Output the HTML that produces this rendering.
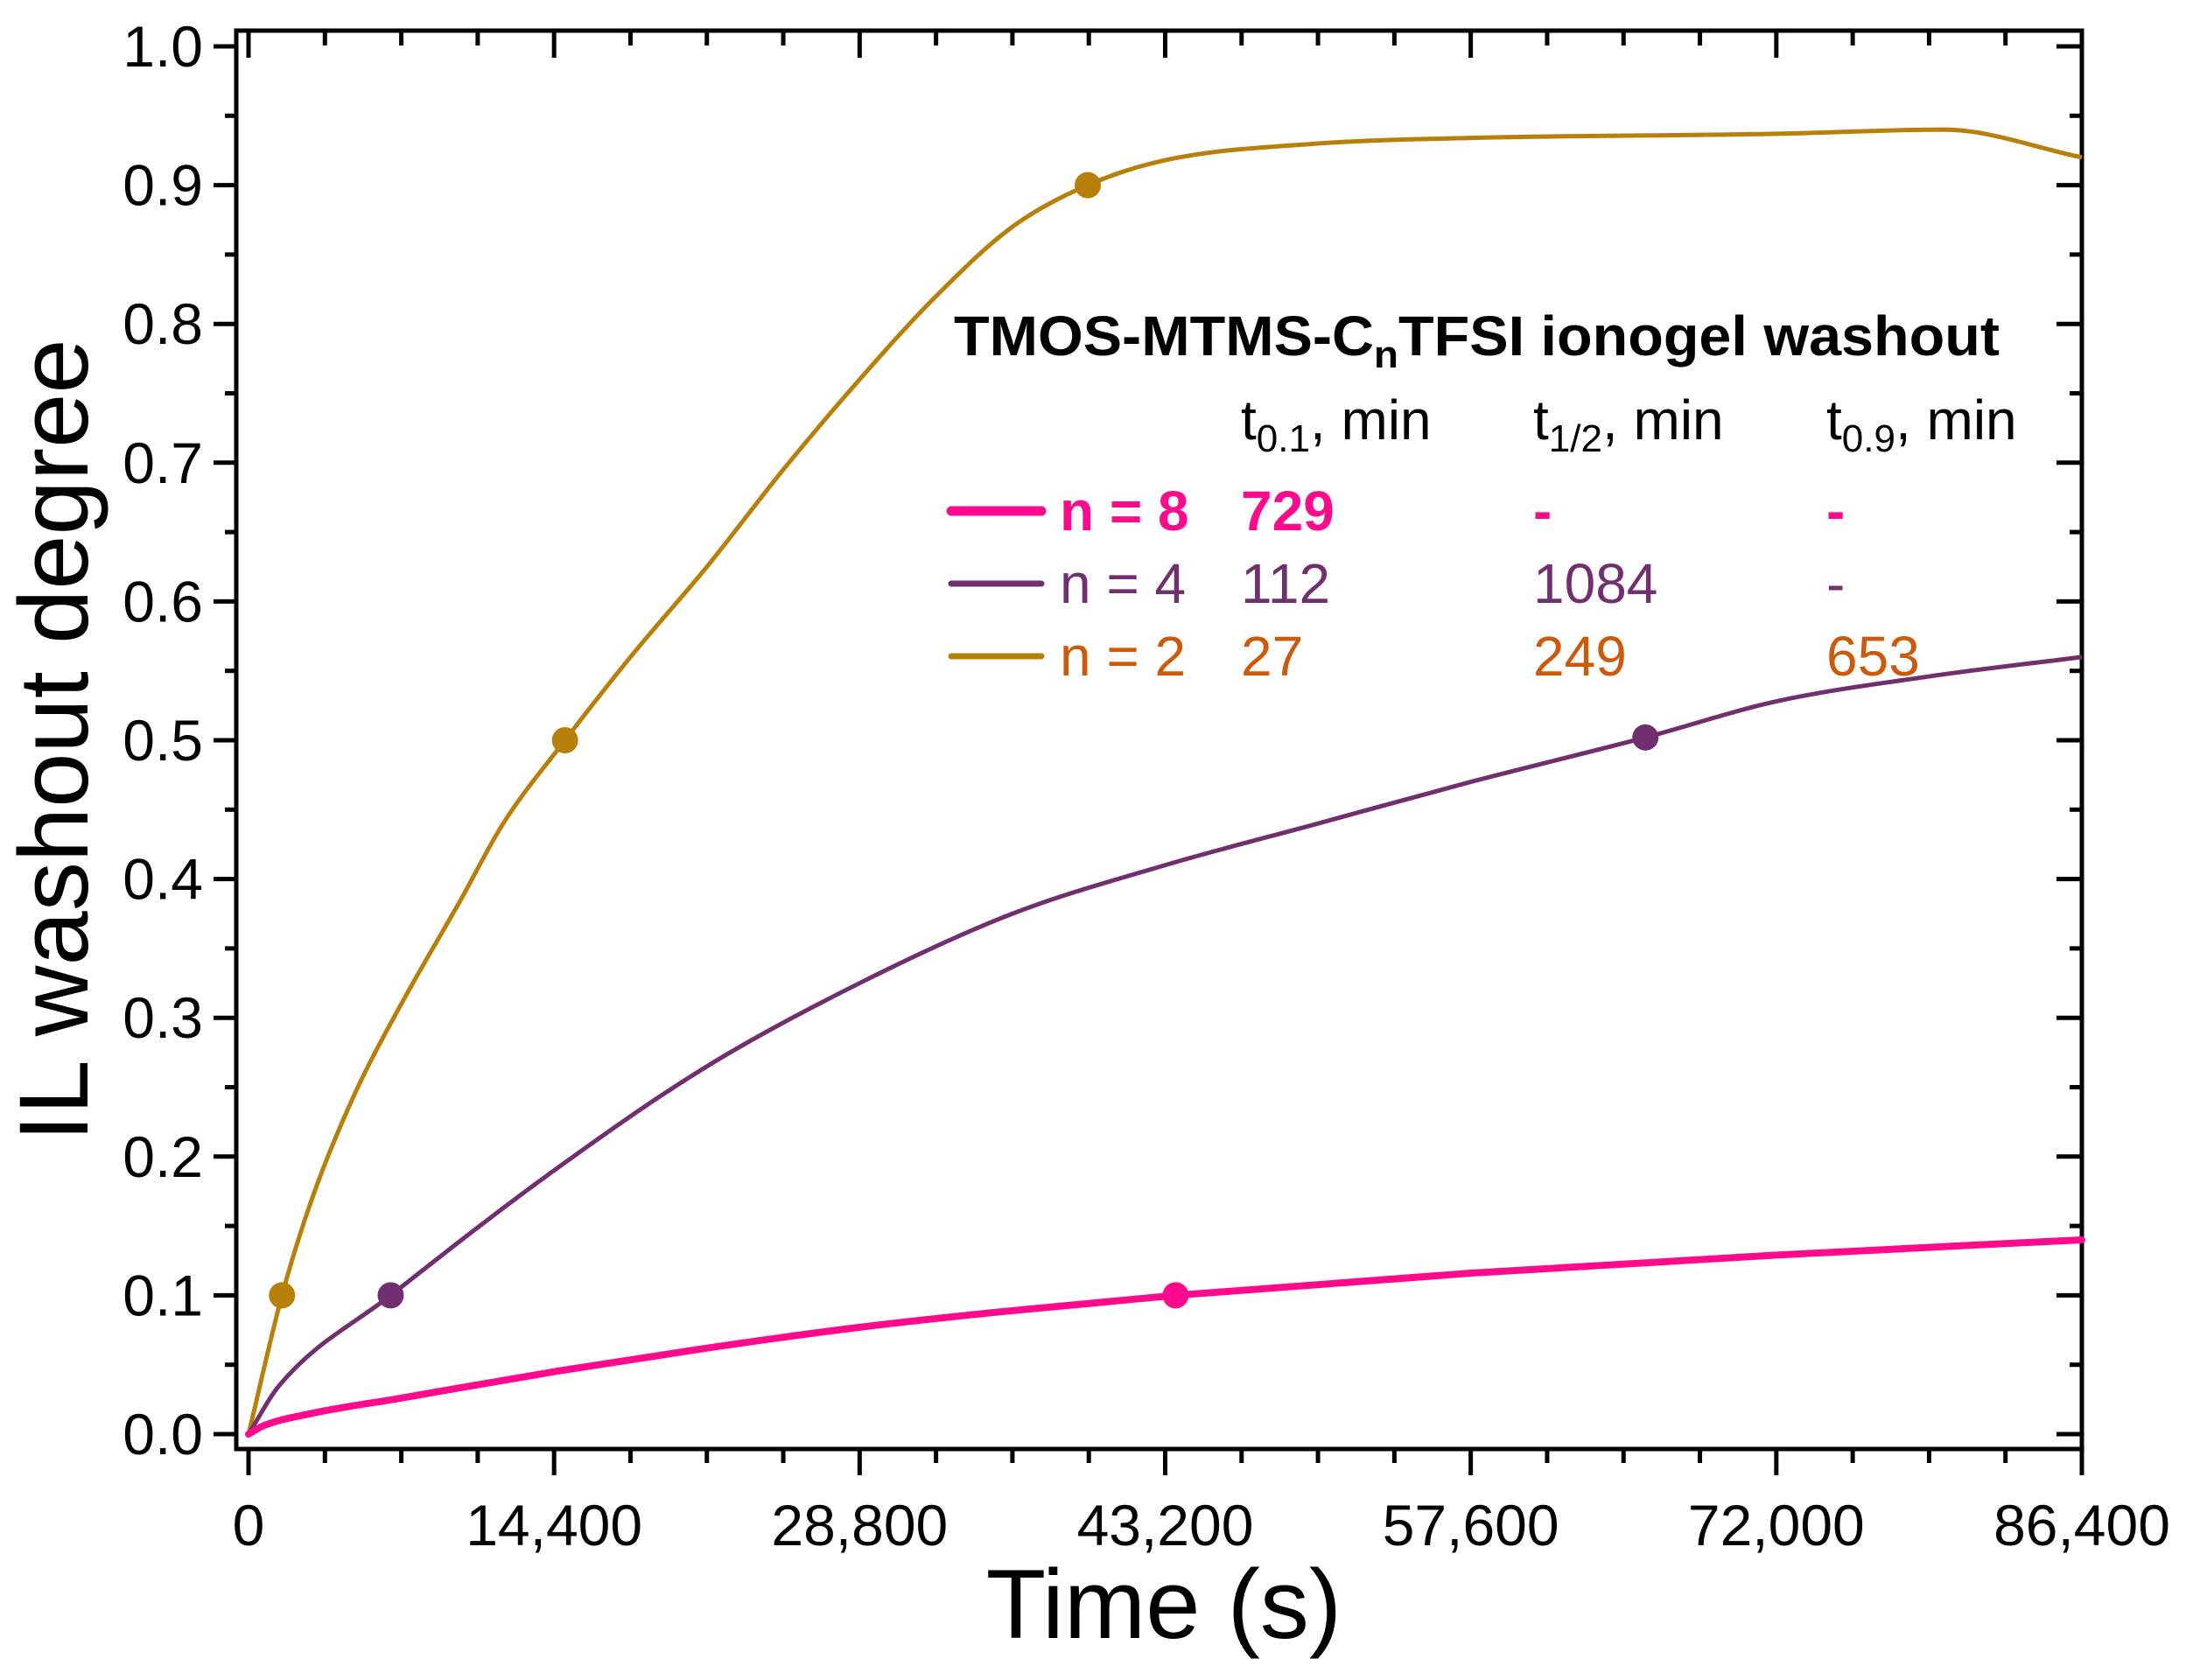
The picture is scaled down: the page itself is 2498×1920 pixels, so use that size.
<!DOCTYPE html>
<html><head><meta charset="utf-8"><style>
html,body{margin:0;padding:0;background:#fff}
svg{display:block}
text{font-family:"Liberation Sans",Arial,sans-serif}
</style></head><body>
<svg id="chart" width="2498" height="1920" viewBox="0 0 2498 1920" xmlns="http://www.w3.org/2000/svg">
<g id="grid-layer"></g>
<g id="series-layer"></g>
<g id="legend">
<text x="1090" y="406" font-size="64" font-weight="bold" textLength="1195" lengthAdjust="spacingAndGlyphs">TMOS-MTMS-C<tspan font-size="44" dy="14">n</tspan><tspan dy="-14">TFSI ionogel washout</tspan></text>
<text x="1418" y="502" font-size="64">t<tspan font-size="44" dy="14">0.1</tspan><tspan dy="-14">, min</tspan></text>
<text x="1752" y="502" font-size="64">t<tspan font-size="44" dy="14">1/2</tspan><tspan dy="-14">, min</tspan></text>
<text x="2087" y="502" font-size="64">t<tspan font-size="44" dy="14">0.9</tspan><tspan dy="-14">, min</tspan></text>
<line x1="1087" y1="584" x2="1190" y2="584" stroke="#ff0a8c" stroke-width="11" stroke-linecap="round"/>
<text x="1211" y="606" font-size="64" font-weight="bold" fill="#ff0a8c">n = 8</text>
<text x="1418" y="606" font-size="64" font-weight="bold" fill="#ff0a8c">729</text>
<text x="1752" y="606" font-size="64" font-weight="bold" fill="#ff0a8c">-</text>
<text x="2087" y="606" font-size="64" font-weight="bold" fill="#ff0a8c">-</text>
<line x1="1087" y1="667" x2="1190" y2="667" stroke="#722f6f" stroke-width="7" stroke-linecap="round"/>
<text x="1211" y="689" font-size="64" fill="#722f6f">n = 4</text>
<text x="1418" y="689" font-size="64" fill="#722f6f">112</text>
<text x="1752" y="689" font-size="64" fill="#722f6f">1084</text>
<text x="2087" y="689" font-size="64" fill="#722f6f">-</text>
<line x1="1087" y1="750" x2="1190" y2="750" stroke="#b8800a" stroke-width="7" stroke-linecap="round"/>
<text x="1211" y="772" font-size="64" fill="#cc5a0a">n = 2</text>
<text x="1418" y="772" font-size="64" fill="#cc5a0a">27</text>
<text x="1752" y="772" font-size="64" fill="#cc5a0a">249</text>
<text x="2087" y="772" font-size="64" fill="#cc5a0a">653</text>
</g>
<text x="1330" y="1872" font-size="112" text-anchor="middle">Time (s)</text>
<text transform="translate(100,846) rotate(-90)" font-size="112" text-anchor="middle">IL washout degree</text>
</svg>
<script>
const xTicks = [0, 14400, 28800, 43200, 57600, 72000, 86400];
const xTickLabels = ["0", "14,400", "28,800", "43,200", "57,600", "72,000", "86,400"];
const yTicks = [0, 0.1, 0.2, 0.3, 0.4, 0.5, 0.6, 0.7, 0.8, 0.9, 1.0];
const yTickLabels = ["0.0","0.1","0.2","0.3","0.4","0.5","0.6","0.7","0.8","0.9","1.0"];
const n2Times = [0, 1577, 3000, 5000, 7200, 10000, 12000, 14915, 18000, 21600, 25200, 28800, 32400, 36000, 39550, 43200, 50400, 57600, 72000, 79900, 86400];
const n2Values = [0, 0.1, 0.17, 0.245, 0.31, 0.385, 0.44, 0.5, 0.56, 0.625, 0.695, 0.76, 0.82, 0.87, 0.9, 0.918, 0.93, 0.934, 0.937, 0.94, 0.92];
const n4Times = [0, 1445, 6700, 14400, 21600, 28800, 36000, 43200, 50400, 57600, 65830, 72000, 79200, 86400];
const n4Values = [0, 0.035, 0.1, 0.19, 0.265, 0.325, 0.375, 0.41, 0.44, 0.47, 0.502, 0.528, 0.546, 0.56];
const n8Times = [0, 700, 3000, 7200, 14400, 21600, 28800, 36000, 43690, 57600, 72000, 86400];
const n8Values = [0, 0.006, 0.015, 0.026, 0.045, 0.062, 0.077, 0.089, 0.1, 0.116, 0.129, 0.14];
const n2MarkerTimes = [1577, 14915, 39550];
const n2MarkerValues = [0.1, 0.5, 0.9];
const n4MarkerTimes = [6700, 65830];
const n4MarkerValues = [0.1, 0.502];
const n8MarkerTimes = [43690];
const n8MarkerValues = [0.1];

const NS = "http://www.w3.org/2000/svg";
const X0 = 284, X1 = 2379, Y0 = 1639, Y1 = 53;
const PL = 270, PR = 2379, PT = 35, PB = 1656;
function sx(v){ return X0 + (v - 0) / 86400 * (X1 - X0); }
function sy(v){ return Y0 - v / 1.0 * (Y0 - Y1); }
function mk(tag, attrs, parent){ const e = document.createElementNS(NS, tag); for (const k in attrs) e.setAttribute(k, attrs[k]); parent.appendChild(e); return e; }
const axes = document.getElementById('grid-layer');
const ser = document.getElementById('series-layer');

const frame = mk('rect', {x:PL, y:PT, width:PR-PL, height:PB-PT, fill:'none', stroke:'#000', 'stroke-width':5}, axes);



xTicks.forEach((t, i) => {
  const x = sx(t);
  const a = mk('line', {x1:x, y1:PB, x2:x, y2:PB+30, stroke:'#000', 'stroke-width':5}, axes);
  
  
  mk('line', {x1:x, y1:PT, x2:x, y2:PT+31, stroke:'#000', 'stroke-width':5}, axes);
  const lb = mk('text', {x:x, y:PB+110, 'font-size':66, 'text-anchor':'middle'}, axes);
  lb.textContent = xTickLabels[i];
  
  
  if (i < xTicks.length - 1) {
    for (let k = 1; k < 4; k++) {
      const xm = sx(t + k * 3600);
      mk('line', {x1:xm, y1:PB, x2:xm, y2:PB+16, stroke:'#000', 'stroke-width':5}, axes);
      mk('line', {x1:xm, y1:PT, x2:xm, y2:PT+17, stroke:'#000', 'stroke-width':5}, axes);
    }
  }
});
yTicks.forEach((t, i) => {
  const y = sy(t);
  const a = mk('line', {x1:PL-26, y1:y, x2:PL, y2:y, stroke:'#000', 'stroke-width':5}, axes);
  
  
  mk('line', {x1:PR-29, y1:y, x2:PR, y2:y, stroke:'#000', 'stroke-width':5}, axes);
  const lb = mk('text', {x:PL-38, y:y+23, 'font-size':66, 'text-anchor':'end'}, axes);
  lb.textContent = yTickLabels[i];
  
  
  if (i < yTicks.length - 1) {
    const ym = sy(t + 0.05);
    mk('line', {x1:PL-13, y1:ym, x2:PL, y2:ym, stroke:'#000', 'stroke-width':5}, axes);
    mk('line', {x1:PR-14, y1:ym, x2:PR, y2:ym, stroke:'#000', 'stroke-width':5}, axes);
  }
});

// monotone cubic (Fritsch-Carlson) path
function smoothPath(ts, vs){
  const px = ts.map(sx), py = vs.map(sy), n = px.length;
  const d = [], m = new Array(n);
  for (let i = 0; i < n - 1; i++) d.push((py[i+1]-py[i])/(px[i+1]-px[i]));
  m[0] = d[0]; m[n-1] = d[n-2];
  for (let i = 1; i < n - 1; i++) m[i] = (d[i-1]*d[i] <= 0) ? 0 : (d[i-1]+d[i])/2;
  for (let i = 0; i < n - 1; i++) {
    if (d[i] === 0) { m[i] = 0; m[i+1] = 0; continue; }
    const a = m[i]/d[i], b = m[i+1]/d[i], s = a*a + b*b;
    if (s > 9) { const t = 3/Math.sqrt(s); m[i] = t*a*d[i]; m[i+1] = t*b*d[i]; }
  }
  let p = 'M' + px[0] + ',' + py[0];
  for (let i = 0; i < n - 1; i++) {
    const h = (px[i+1]-px[i])/3;
    p += 'C' + (px[i]+h) + ',' + (py[i]+m[i]*h) + ' ' + (px[i+1]-h) + ',' + (py[i+1]-m[i+1]*h) + ' ' + px[i+1] + ',' + py[i+1];
  }
  return p;
}
const l2 = mk('path', {d:smoothPath(n2Times, n2Values), fill:'none', stroke:'#b8800a', 'stroke-width':5, 'stroke-linejoin':'round'}, ser);


const l4 = mk('path', {d:smoothPath(n4Times, n4Values), fill:'none', stroke:'#722f6f', 'stroke-width':5, 'stroke-linejoin':'round'}, ser);


const l8 = mk('path', {d:smoothPath(n8Times, n8Values), fill:'none', stroke:'#ff0a8c', 'stroke-width':8, 'stroke-linejoin':'round', 'stroke-linecap':'round'}, ser);



n2MarkerTimes.forEach((t, i) => {
  const c = mk('circle', {cx:sx(t), cy:sy(n2MarkerValues[i]), r:15, fill:'#b8800a'}, ser);
  
  
});
n4MarkerTimes.forEach((t, i) => {
  const c = mk('circle', {cx:sx(t), cy:sy(n4MarkerValues[i]), r:15, fill:'#722f6f'}, ser);
  
  
});
n8MarkerTimes.forEach((t, i) => {
  const c = mk('circle', {cx:sx(t), cy:sy(n8MarkerValues[i]), r:15, fill:'#ff0a8c'}, ser);
  
  
});
</script>
</body></html>
